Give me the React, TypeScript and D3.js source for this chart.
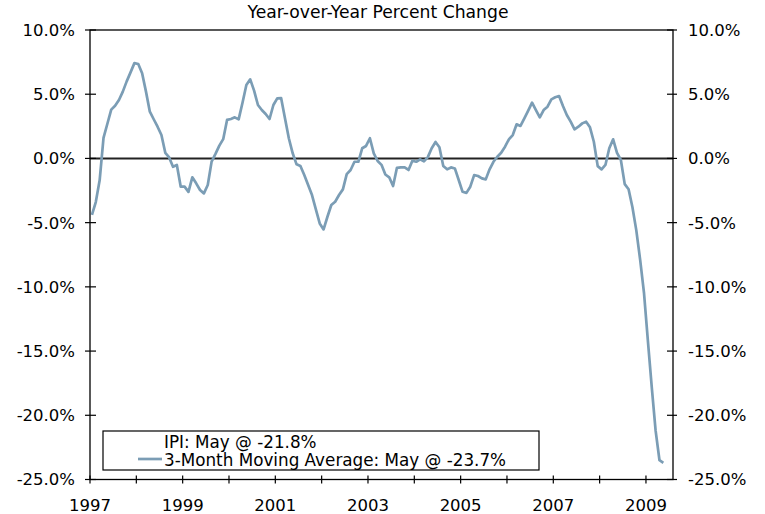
import React from "react";
import * as d3 from "d3";

// Monthly 3-month moving average of IPI, year-over-year % change, Jan 1997 .. May 2009
const startYear = 1997;
const movingAverage: number[] = [
  // 1997
  -4.4, -3.4, -1.7, 1.6, 2.7, 3.8, 4.1, 4.55, 5.2, 6.0, 6.7, 7.42,
  // 1998
  7.35, 6.63, 5.2, 3.64, 3.05, 2.47, 1.82, 0.44, 0.08, -0.65, -0.51, -2.2,
  // 1999
  -2.2, -2.6, -1.47, -1.94, -2.46, -2.72, -2.07, -0.25, 0.35, 1.0, 1.5, 3.0,
  // 2000
  3.07, 3.2, 3.04, 4.34, 5.72, 6.16, 5.28, 4.16, 3.77, 3.46, 3.07, 4.16,
  // 2001
  4.68, 4.7, 3.12, 1.57, 0.4, -0.46, -0.59, -1.29, -2.07, -2.85, -3.97, -5.06,
  // 2002
  -5.53, -4.54, -3.63, -3.37, -2.85, -2.41, -1.22, -0.9, -0.26, -0.26, 0.79, 0.97,
  // 2003
  1.57, 0.4, -0.2, -0.5, -1.25, -1.47, -2.15, -0.73, -0.7, -0.7, -0.9, -0.18,
  // 2004
  -0.26, -0.07, -0.23, 0.1, 0.79, 1.28, 0.87, -0.59, -0.85, -0.7, -0.78, -1.68,
  // 2005
  -2.6, -2.68, -2.2, -1.3, -1.37, -1.55, -1.63, -0.85, -0.26, 0.13, 0.44, 0.91,
  // 2006
  1.49, 1.82, 2.66, 2.53, 3.12, 3.72, 4.34, 3.77, 3.2, 3.77, 4.03, 4.6,
  // 2007
  4.76, 4.86, 4.08, 3.38, 2.86, 2.27, 2.47, 2.73, 2.86, 2.42, 1.3, -0.6,
  // 2008
  -0.85, -0.51, 0.79, 1.49, 0.44, -0.12, -2.0, -2.4, -3.8, -5.6, -7.9, -10.5,
  // 2009
  -14.2, -17.8, -21.2, -23.5, -23.7,
];

const yTicks = [10, 5, 0, -5, -10, -15, -20, -25];
const xTickYears = [1997, 1998, 1999, 2000, 2001, 2002, 2003, 2004, 2005, 2006, 2007, 2008, 2009];
const xLabelYears = [1997, 1999, 2001, 2003, 2005, 2007, 2009];
const title = "Year-over-Year Percent Change";
const legendItems = ["IPI: May @ -21.8%", "3-Month Moving Average: May @ -23.7%"];

const W = 765;
const H = 514;
const left = 90;
const right = 673;
const top = 30;
const bottom = 479.5;
const FONT = "'DejaVu Sans', Verdana, sans-serif";
const FS = 16.5;
const FS_TITLE = 17.2;
const FS_LEGEND = 16.8;
const LINE_COLOR = "#7b9db5";

export default function App() {
  const x = d3
    .scaleLinear()
    .domain([1997, 1997 + (right - left) / 46.33])
    .range([left, right]);
  const y = d3.scaleLinear().domain([-25, 10]).range([bottom, top]);

  const pts: [number, number][] = movingAverage.map((v, i) => [
    startYear + (i + 0.5) / 12,
    v,
  ]);
  const line = d3
    .line<[number, number]>()
    .x((d) => x(d[0]))
    .y((d) => y(d[1]));

  const fmt = (v: number) => `${v.toFixed(1)}%`;

  return (
    <svg
      width={W}
      height={H}
      style={{ position: "absolute", left: 0, top: 0, background: "#fff" }}
      fontFamily={FONT}
    >
      <rect x={0} y={0} width={W} height={H} fill="#fff" />
      <text x={378} y={18} textAnchor="middle" fontSize={FS_TITLE} fill="#000">
        {title}
      </text>

      {/* zero line */}
      <line x1={left} x2={right} y1={y(0)} y2={y(0)} stroke="#222" strokeWidth={2} />

      {/* series */}
      <path
        d={line(pts) || ""}
        fill="none"
        stroke={LINE_COLOR}
        strokeWidth={2.7}
        strokeLinejoin="round"
      />

      {/* frame */}
      <rect
        x={left}
        y={top}
        width={right - left}
        height={bottom - top}
        fill="none"
        stroke="#000"
        strokeWidth={1.3}
      />

      {/* y ticks + labels */}
      {yTicks.map((t) => (
        <g key={t}>
          <line x1={left - 5} x2={left + 6} y1={y(t)} y2={y(t)} stroke="#000" strokeWidth={1.2} />
          <line x1={right - 6} x2={right + 4} y1={y(t)} y2={y(t)} stroke="#000" strokeWidth={1.2} />
          <text x={75} y={y(t)} dy="0.36em" textAnchor="end" fontSize={FS} fill="#000">
            {fmt(t)}
          </text>
          <text x={688} y={y(t)} dy="0.36em" textAnchor="start" fontSize={FS} fill="#000">
            {fmt(t)}
          </text>
        </g>
      ))}

      {/* x ticks + labels */}
      {xTickYears.map((yr) => (
        <line
          key={yr}
          x1={x(yr)}
          x2={x(yr)}
          y1={bottom - 4}
          y2={bottom + 4}
          stroke="#000"
          strokeWidth={1.2}
        />
      ))}
      {xLabelYears.map((yr) => (
        <text key={yr} x={x(yr)} y={511} textAnchor="middle" fontSize={FS} fill="#000">
          {yr}
        </text>
      ))}

      {/* legend */}
      <rect x={103} y={431} width={436} height={39} fill="#fff" stroke="#000" strokeWidth={1.2} />
      <text x={164} y={448} fontSize={FS_LEGEND} fill="#000">
        {legendItems[0]}
      </text>
      <line x1={138} x2={162} y1={459} y2={459} stroke={LINE_COLOR} strokeWidth={2.7} />
      <text x={164} y={466} fontSize={FS_LEGEND} fill="#000">
        {legendItems[1]}
      </text>
    </svg>
  );
}
